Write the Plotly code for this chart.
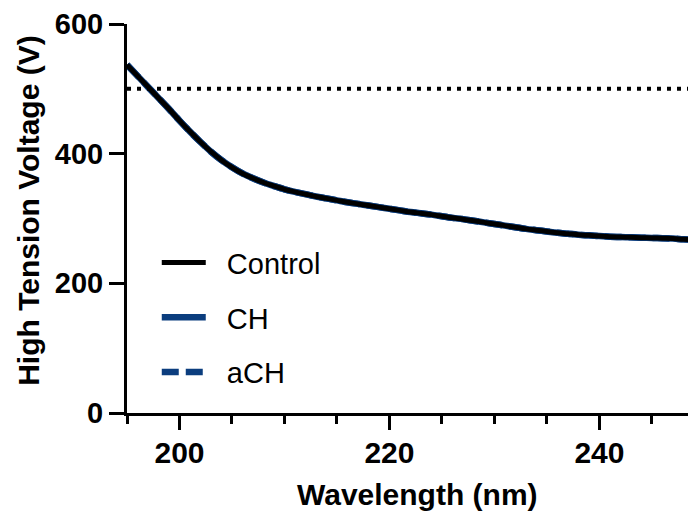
import plotly.graph_objects as go

wavelength = list(range(195, 251))
control = [537, 520, 503, 486, 469, 451, 434, 418, 403, 390,
           379, 369.5, 362, 355.5, 350, 345, 341, 337.5, 334, 331,
           328, 325, 322.5, 320, 317.5, 315, 312.5, 310, 308, 306,
           303.5, 301, 299, 296.5, 294, 291.5, 289, 286.5, 284, 282,
           280, 278, 276.5, 275, 274, 273, 272, 271.5, 271, 270.5,
           270, 269.5, 269, 268, 267.5, 267]
ch = list(control)
ach = list(control)
threshold = 500

x_tick_vals = [200, 220, 240]
y_tick_vals = [0, 200, 400, 600]

BLUE = "#0b3d7e"
FONT = "Arial, Liberation Sans, Helvetica, sans-serif"
NB = "\u00a0\u00a0"

fig = go.Figure()
fig.add_trace(go.Scatter(x=wavelength, y=ch, mode="lines", name=NB + "CH",
                         line=dict(color=BLUE, width=6.5, shape="spline"), legendrank=2,
                         legendgroup="b"))
fig.add_trace(go.Scatter(x=wavelength, y=ach, mode="lines", name=NB + "aCH",
                         line=dict(color=BLUE, width=6.5, dash="17px,7px", shape="spline"),
                         legendrank=3, legendgroup="c"))
fig.add_trace(go.Scatter(x=wavelength, y=control, mode="lines", name=NB + "Control",
                         line=dict(color="black", width=5, shape="spline"), legendrank=1,
                         legendgroup="a"))

fig.add_shape(type="line", xref="paper", x0=0, x1=1, yref="y", y0=threshold, y1=threshold,
              line=dict(color="black", width=4, dash="4px,6px"))

# the page body adds an 8px offset, so the figure is sized to end at the window edge
fig.update_layout(
    width=688, height=506,
    margin=dict(l=119, r=0, t=16, b=101),
    paper_bgcolor="white", plot_bgcolor="white",
    font=dict(family=FONT, color="black"),
    showlegend=True,
    legend=dict(x=0.0523, y=0.452, xanchor="left", yanchor="top",
                font=dict(family=FONT, size=29, color="black"),
                bgcolor="rgba(0,0,0,0)", itemwidth=44, tracegroupgap=14,
                traceorder="grouped"),
    xaxis=dict(range=[195, 249.2], tickvals=x_tick_vals, showgrid=False, zeroline=False,
               automargin=False,
               showline=True, linewidth=3, linecolor="black",
               ticks="outside", ticklen=14, tickwidth=3, tickcolor="black",
               tickfont=dict(family=FONT, size=30, weight="bold", color="black"),
               ticklabelstandoff=-3,
               minor=dict(dtick=5, tick0=195, ticks="outside", ticklen=8, tickwidth=3,
                          tickcolor="black", showgrid=False)),
    yaxis=dict(range=[0, 600], tickvals=y_tick_vals, showgrid=False, zeroline=False,
               automargin=False, ticklabeloverflow="allow",
               showline=True, linewidth=3, linecolor="black",
               ticks="outside", ticklen=15, tickwidth=3, tickcolor="black",
               tickfont=dict(family=FONT, size=29, weight="bold", color="black"),
               ticklabelstandoff=0),
)

fig.add_annotation(text="Wavelength (nm)", xref="paper", yref="paper",
                   x=0.5106, y=-0.21, xanchor="center", yanchor="middle", showarrow=False,
                   font=dict(family=FONT, size=30, weight="bold", color="black"))
fig.add_annotation(text="High Tension Voltage (V)", xref="paper", yref="paper",
                   x=-0.1722, y=0.5197, xanchor="center", yanchor="middle", showarrow=False,
                   textangle=-90,
                   font=dict(family=FONT, size=30, weight="bold", color="black"))

fig.write_html("out.html")
